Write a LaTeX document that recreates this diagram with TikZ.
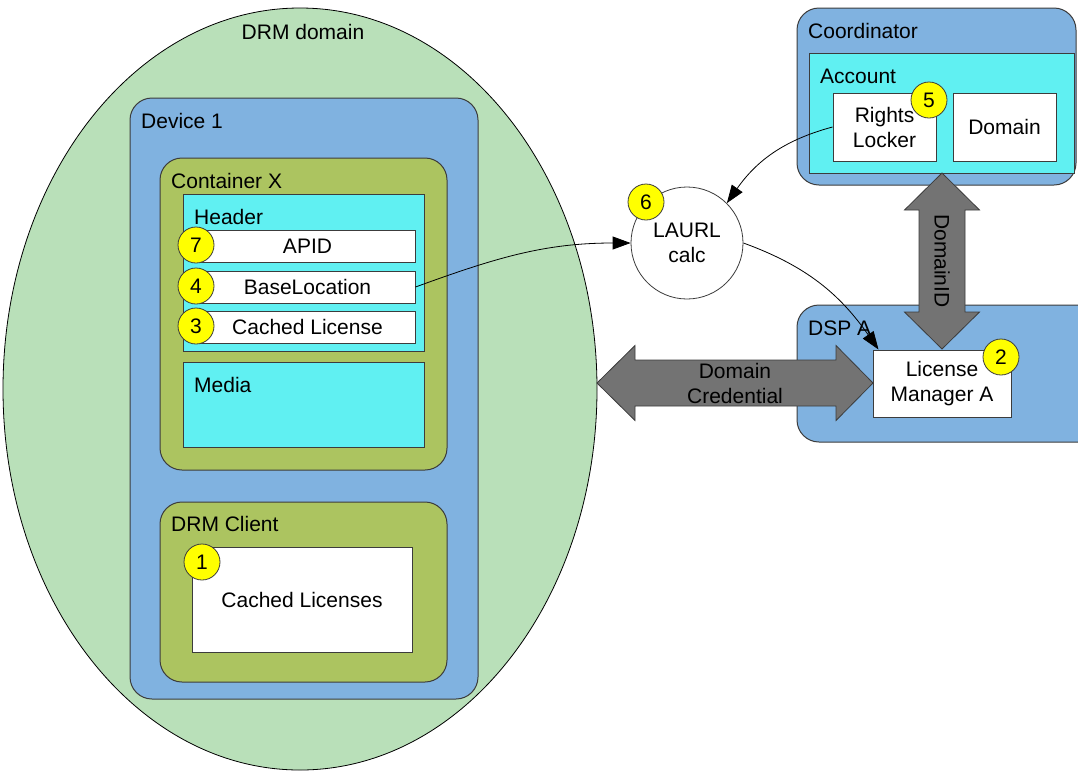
\documentclass[tikz,border=0pt]{standalone}
\usepackage{fontspec}
\setmainfont{Liberation Sans}
\usepackage{tikz}
\usetikzlibrary{shapes.geometric,arrows.meta}
\definecolor{domaingreen}{RGB}{185,224,185}
\definecolor{deviceblue}{RGB}{128,178,224}
\definecolor{contgreen}{RGB}{172,196,96}
\definecolor{headcyan}{RGB}{96,240,242}
\definecolor{markyellow}{RGB}{255,255,0}
\definecolor{bulkgray}{RGB}{115,115,115}
\definecolor{edgegray}{RGB}{60,60,60}
\tikzset
{
    domainnode/.style = {ellipse, draw=black, fill=domaingreen, line width=0.8pt, inner sep=0pt},
    groupbox/.style   = {rectangle, rounded corners=22pt, draw=edgegray, line width=1pt, inner sep=0pt},
    cyanbox/.style    = {rectangle, draw=edgegray, fill=headcyan, line width=1pt, inner sep=0pt},
    fieldbox/.style   = {rectangle, draw=edgegray, fill=white, line width=1pt, align=center, inner sep=0pt},
    marker/.style     = {circle, draw=edgegray, fill=markyellow, line width=0.8pt, minimum size=36pt, inner sep=0pt},
    caption/.style    = {anchor=west, inner sep=0pt},
    bulkarrow/.style  = {draw=edgegray, fill=bulkgray, line width=0.8pt},
    arrow/.style      = {line width=0.8pt, ->, >={Triangle[length=18pt,width=13pt]}}
}
\begin{document}
\begin{tikzpicture}[x=1pt, y=1pt, font=\fontsize{21}{25}\selectfont]
   \useasboundingbox (0,0) rectangle (1078,-772);

   % left side: domain, device and its parts
   \node (domain)  [domainnode, minimum width=594pt, minimum height=762pt]           at (300,-389)   {};
   \node (domlbl)  [inner sep=0pt]                                                    at (303,-32)    {DRM domain};
   \node (dev)     [groupbox, fill=deviceblue, minimum width=348pt, minimum height=601pt] at (304,-398.5) {};
   \node (devlbl)  [caption]                                                          at (141,-121)   {Device 1};
   \node (cont)    [groupbox, fill=contgreen, minimum width=287pt, minimum height=312pt]  at (303.5,-314) {};
   \node (contlbl) [caption]                                                          at (171,-181)   {Container X};
   \node (head)    [cyanbox, minimum width=241pt, minimum height=157pt]               at (303.5,-272.5) {};
   \node (headlbl) [caption]                                                          at (194,-217)   {Header};
   \node (apid)    [fieldbox, minimum width=215pt, minimum height=32pt]               at (307.5,-246) {APID};
   \node (base)    [fieldbox, minimum width=215pt, minimum height=32pt]               at (307.5,-287) {BaseLocation};
   \node (cached)  [fieldbox, minimum width=215pt, minimum height=32pt]               at (307.5,-327) {Cached License};
   \node (media)   [cyanbox, minimum width=241pt, minimum height=85pt]                at (303.5,-404.5) {};
   \node (medlbl)  [caption]                                                          at (194,-385)   {Media};
   \node (client)  [groupbox, fill=contgreen, minimum width=287pt, minimum height=180pt]  at (303.5,-592) {};
   \node (clilbl)  [caption]                                                          at (171,-524)   {DRM Client};
   \node (store)   [fieldbox, minimum width=220pt, minimum height=105pt]              at (302,-599.5) {Cached Licenses};

   \node (m7) [marker] at (196,-245) {7};
   \node (m4) [marker] at (196,-286) {4};
   \node (m3) [marker] at (196,-326) {3};
   \node (m1) [marker] at (202,-562) {1};

   % middle
   \node (laurl) [circle, draw=edgegray, fill=white, line width=0.8pt, minimum size=112pt, inner sep=0pt, align=center] at (687,-243) {LAURL\\calc};
   \node (m6)    [marker] at (646,-202) {6};

   % right side: coordinator and DSP
   \node (coord)   [groupbox, fill=deviceblue, minimum width=279pt, minimum height=177pt] at (936.5,-96.5) {};
   \node (coolbl)  [caption]                                                          at (808,-31)    {Coordinator};
   \node (acct)    [cyanbox, minimum width=265pt, minimum height=120pt]               at (941.5,-113) {};
   \node (acclbl)  [caption]                                                          at (820,-76)    {Account};
   \node (rl)      [fieldbox, minimum width=103pt, minimum height=68pt]               at (884.5,-127) {Rights\\Locker};
   \node (dom)     [fieldbox, minimum width=103pt, minimum height=68pt]               at (1004.5,-127) {Domain};
   \node (m5)      [marker] at (929,-100) {5};

   \node (dsp)     [groupbox, fill=deviceblue, minimum width=303pt, minimum height=137pt] at (948.5,-373.5) {};
   \node (dsplbl)  [caption]                                                          at (808,-328)   {DSP A};

   % wide arrows
   \path[bulkarrow] (597,-383) -- (635,-345.5) -- (635,-360) -- (836,-360) -- (836,-345.5) -- (873,-383)
                    -- (836,-420.5) -- (836,-406) -- (635,-406) -- (635,-420.5) -- cycle;
   \node (credlbl) [align=center, inner sep=0pt] at (735,-383) {Domain\\Credential};

   \path[bulkarrow] (942,-173) -- (979.5,-210) -- (965,-210) -- (965,-312) -- (979.5,-312) -- (942,-349)
                    -- (904.5,-312) -- (919,-312) -- (919,-210) -- (904.5,-210) -- cycle;
   \node (idlbl) [rotate=-90, inner sep=0pt] at (942,-261) {DomainID};

   \node (lm) [fieldbox, minimum width=138pt, minimum height=67pt] at (942,-383.5) {License\\Manager A};
   \node (m2) [marker] at (1001,-357) {2};

   \path
      (base.east) edge[arrow, out=20, in=180]  (laurl.west)
      (rl.west)   edge[arrow, out=195, in=55]  (laurl.north east)
      (laurl.east) edge[arrow, out=-20, in=125] ([xshift=6pt]lm.north west);
\end{tikzpicture}
\end{document}
